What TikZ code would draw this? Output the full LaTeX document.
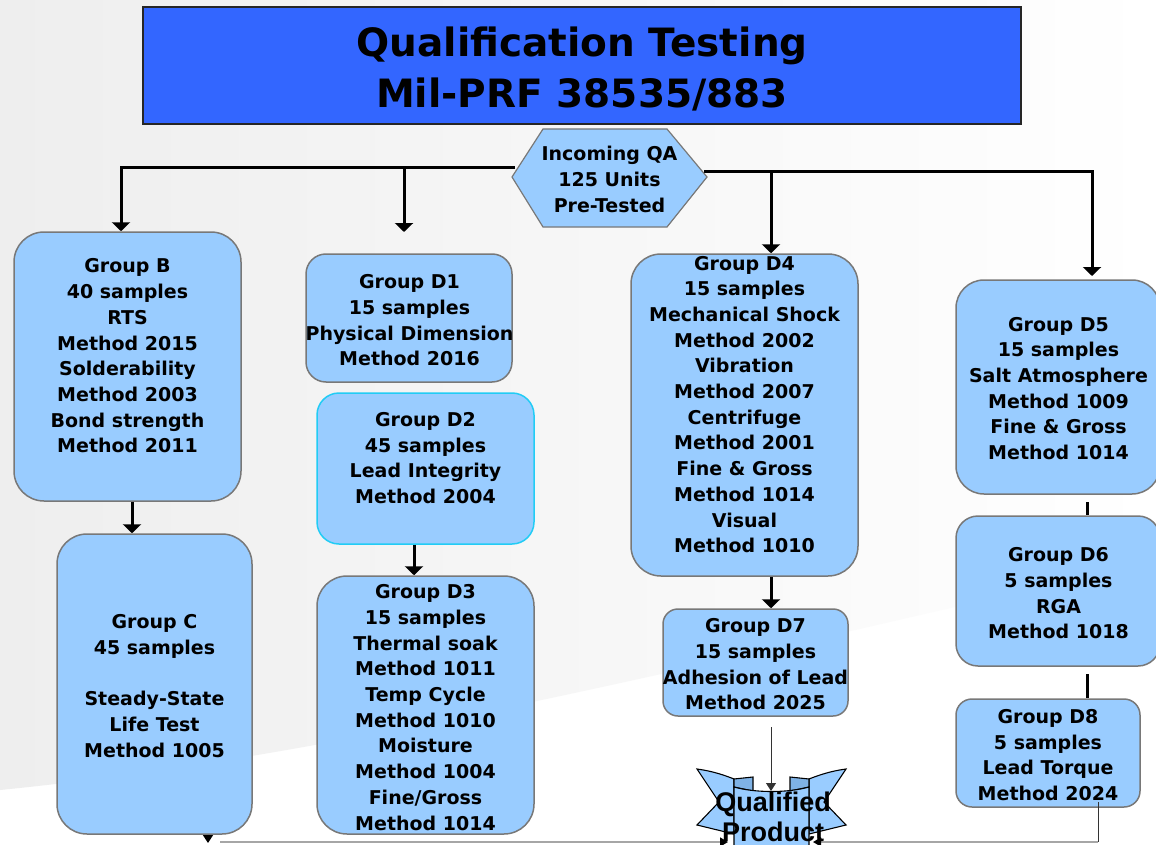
\documentclass[tikz,border=0pt]{standalone}
\usepackage{fontspec}
\setmainfont{DejaVu Sans}
\newfontfamily\arialfont{Liberation Sans}
\usetikzlibrary{arrows.meta}
\definecolor{boxfill}{HTML}{99CCFF}
\definecolor{boxline}{HTML}{787878}
\definecolor{titlefill}{HTML}{3366FF}
\definecolor{cyanline}{HTML}{22CCF5}
\definecolor{bggray}{HTML}{EEEEEE}
\definecolor{foldfill}{HTML}{7FB2E5}
\begin{document}
\begin{tikzpicture}[x=1pt,y=-1pt,
  grp/.style={draw=boxline, line width=1.5pt, fill=boxfill, rounded corners=#1, inner sep=0pt},
  grp/.default=20pt,
  txt/.style={font=\fontsize{19}{25.7}\selectfont\bfseries, align=center, inner sep=0pt, text=black},
  conn/.style={line width=3pt, draw=black},
  tipbig/.style={-{Triangle[width=18pt,length=9pt]}},
  tipsmall/.style={-{Triangle[width=10pt,length=8pt]}},
  thinline/.style={line width=1pt, draw=black!80},
  grayline/.style={line width=1.5pt, draw=black!35},
  ribbon/.style={draw=black, line width=1.1pt, fill=boxfill},
]
\useasboundingbox (0,0) rectangle (1156,845);
\clip (0,0) rectangle (1156,845);
% background
\fill[white] (0,0) rectangle (1156,845);
\shade[left color=bggray, right color=white]
  (0,0) -- (1156,0) -- (1156,560) .. controls (600,690) and (300,760) .. (0,790) -- cycle;

% title
\node[draw=black!85, line width=1.5pt, fill=titlefill, minimum width=878pt, minimum height=117pt, inner sep=0pt] (title) at (582,65.5) {};
\node[font=\fontsize{39}{51}\selectfont\bfseries, align=center, inner sep=0pt] (titletxt) at (582,69) {Qualification Testing\\Mil-PRF 38535/883};

% connectors from the hexagon
\coordinate (hexL) at (515,168);
\coordinate (hexR) at (704,172);
\coordinate (colB) at (121,232);
\coordinate (jD1) at (404,168);
\coordinate (eD1) at (404,232);
\coordinate (jD4) at (771,172);
\coordinate (eD5) at (1092,276);

% boxes
\node[grp=30pt, minimum width=227pt, minimum height=269pt] (B) at (127.5,366.5) {};
\node[grp=30pt, minimum width=195pt, minimum height=300pt] (C) at (154.5,684) {};
\node[grp=20pt, minimum width=206pt, minimum height=128pt] (D1) at (409,318) {};
\node[grp=22pt, draw=cyanline, minimum width=217pt, minimum height=151pt] (D2) at (425.5,468.5) {};
\node[grp=30pt, minimum width=217pt, minimum height=258pt] (D3) at (425.5,705) {};
\node[grp=30pt, minimum width=227pt, minimum height=322pt] (D4) at (744.5,415) {};
\node[grp=15pt, minimum width=185pt, minimum height=107pt] (D7) at (755.5,662.5) {};
\node[grp=28pt, minimum width=204pt, minimum height=214pt] (D5) at (1058,387) {};
\node[grp=22pt, minimum width=204pt, minimum height=150pt] (D6) at (1058,591) {};
\node[grp=16pt, minimum width=184pt, minimum height=108pt] (D8) at (1048,753) {};

\draw[conn, tipbig] (hexL) -| (colB |- B.north);
\draw[conn, tipbig] (jD1) -- (eD1);
\draw[conn, tipbig] (hexR) -| (eD5);
\draw[conn, tipbig] (jD4) -- (jD4 |- D4.north);

% hexagon
\fill[boxfill, draw=boxline, line width=1.2pt] (512,177) -- (543,129) -- (667,129) -- (707,177) -- (667,227) -- (543,227) -- cycle;
\node[txt] (hex) at (609.5,179.5) {Incoming QA\\125 Units\\Pre-Tested};

% box texts
\node[txt] (Bt) at (127.5,356) {Group B\\40 samples\\RTS\\Method 2015\\Solderability\\Method 2003\\Bond strength\\Method 2011};
\node[txt] (Ct) at (154.5,686) {Group C\\45 samples\\[25.7pt]Steady-State\\Life Test\\Method 1005};
\node[txt] (D1t) at (409.5,320.5) {Group D1\\15 samples\\Physical Dimension\\Method 2016};
\node[txt] (D2t) at (425.5,458) {Group D2\\45 samples\\Lead Integrity\\Method 2004};
\node[txt] (D3t) at (425.5,707.5) {Group D3\\15 samples\\Thermal soak\\Method 1011\\Temp Cycle\\Method 1010\\Moisture\\Method 1004\\Fine/Gross\\Method 1014};
\node[txt] (D4t) at (744.5,404.5) {Group D4\\15 samples\\Mechanical Shock\\Method 2002\\Vibration\\Method 2007\\Centrifuge\\Method 2001\\Fine \& Gross\\Method 1014\\Visual\\Method 1010};
\node[txt] (D7t) at (755.5,664.5) {Group D7\\15 samples\\Adhesion of Lead\\Method 2025};
\node[txt] (D5t) at (1058.5,388.5) {Group D5\\15 samples\\Salt Atmosphere\\Method 1009\\Fine \& Gross\\Method 1014};
\node[txt] (D6t) at (1058.5,593.5) {Group D6\\5 samples\\RGA\\Method 1018};
\node[txt] (D8t) at (1048,755) {Group D8\\5 samples\\Lead Torque\\Method 2024};

% inter-box connectors
\coordinate (xBC) at (132,0);
\coordinate (xD23) at (414,0);
\coordinate (xD47) at (771,0);
\coordinate (d56) at (1087,502);
\coordinate (d68) at (1087,674);
\draw[conn, tipbig] (xBC |- B.south) -- (xBC |- C.north);
\draw[conn, tipbig] (xD23 |- D2.south) -- (xD23 |- D3.north);
\draw[conn, tipbig] (xD47 |- D4.south) -- (xD47 |- D7.north);
\draw[conn] (d56) -- (d56 |- D6.north);
\draw[conn] (d68) -- (d68 |- D8.north);

% ribbon "Qualified Product"
\draw[ribbon] (697,769) .. controls (712,771) and (724,775) .. (734,779) -- (734,834) -- (697,825) -- (719,802) -- cycle;
\draw[ribbon] (846,769) .. controls (831,771) and (819,775) .. (809,779) -- (809,834) -- (846,825) -- (824,802) -- cycle;
\draw[ribbon, fill=foldfill] (734,779) -- (753,777) -- (753,791) -- (734,787) -- cycle;
\draw[ribbon, fill=foldfill] (809,779) -- (790,777) -- (790,791) -- (809,787) -- cycle;
\draw[ribbon] (734,787) .. controls (755,793) and (788,793) .. (809,787) -- (809,852) -- (734,852) -- cycle;

% connectors into the product
\coordinate (qtop) at (771,791);
\coordinate (d7out) at (771,727);
\draw[thinline, tipsmall] (d7out) -- (qtop);
\coordinate (cArr) at (208,843);
\draw[conn, line width=1.5pt, tipsmall] (cArr |- C.south) -- (cArr);
\coordinate (botL) at (220,842);
\coordinate (botLend) at (728,842);
\draw[grayline, -{Triangle[width=9pt,length=8pt,fill=black,color=black]}] (botL) -- (botLend);
\coordinate (d8out) at (1098,802);
\coordinate (botRend) at (813,842);
\draw[thinline] (d8out) -- (1098,842);
\draw[grayline, -{Triangle[width=9pt,length=8pt,fill=black,color=black]}] (1098,842) -- (botRend);

\node[font=\fontsize{27}{30}\arialfont\bfseries, align=center, inner sep=0pt] (qp) at (773,817) {Qualified\\Product};
\end{tikzpicture}
\end{document}
